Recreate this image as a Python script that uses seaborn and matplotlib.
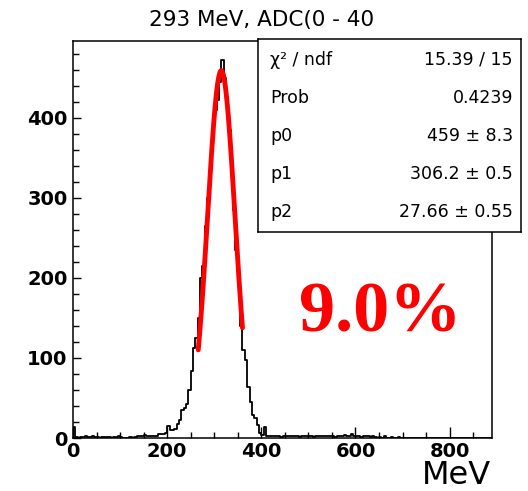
import numpy as np
import pandas as pd
import matplotlib
matplotlib.use("Agg")
import matplotlib.pyplot as plt
import seaborn as sns

# histogram counts, 5 MeV bins starting at 0
bin_width = 5
counts = [
    14, 1, 0, 1, 1, 2, 1, 1, 2, 1, 1, 0, 1, 1, 1, 1, 0, 1, 1, 2,
    1, 0, 0, 0, 1, 0, 1, 2, 3, 2, 4, 2, 3, 2, 2, 3, 5, 5, 5, 6,
    15, 10, 10, 11, 18, 22, 35, 37, 42, 60, 84, 112, 125, 150, 200, 215, 265, 300, 345, 380,
    410, 422, 445, 472, 450, 420, 385, 335, 285, 235, 190, 140, 110, 97, 64, 45, 29, 25, 16, 6,
    4, 14, 3, 2,
    3, 2, 2, 3, 1, 2, 3, 2, 3, 2, 2, 3, 1, 3, 2, 2, 3, 2, 1, 2,
    3, 2, 2, 3, 2, 3, 2, 1, 2, 3, 2, 4, 2, 3, 5, 2, 3, 2, 1, 2,
    3, 2, 1, 2, 1, 0, 1, 0, 2, 0, 0, 1,
    0, 0, 1, 0, 0, 0, 0, 0, 0, 0, 0, 0, 0, 0, 0, 0, 0, 0, 0, 0,
    0, 0, 0, 0, 0, 0, 0, 0, 0, 0, 0, 0, 0, 0, 0, 0, 0, 0, 0, 0, 0, 0,
]

# gaussian fit as drawn
fit_amp = 459
fit_mean = 315
fit_sigma = 29
fit_range = (266, 360)

title = "293 MeV, ADC(0 - 40"
stat_names = ["χ² / ndf", "Prob", "p0", "p1", "p2"]
stat_values = ["15.39 / 15", "0.4239", "459 ± 8.3", "306.2 ± 0.5", "27.66 ± 0.55"]
resolution = "9.0%"

sns.set_style("ticks")
plt.rcParams["font.family"] = ["DejaVu Sans"]
plt.rcParams["text.color"] = "black"
plt.rcParams["xtick.color"] = "black"
plt.rcParams["ytick.color"] = "black"

W, H = 528, 491
fig = plt.figure(figsize=(W / 100, H / 100), dpi=100)
ax = fig.add_axes([73 / W, 1 - 438 / H, (492 - 73) / W, (438 - 41) / H])

nbins = len(counts)
df = pd.DataFrame({"MeV": np.arange(nbins) * bin_width + bin_width / 2,
                   "n": np.array(counts, dtype=float)})
sns.histplot(data=df, x="MeV", weights="n", binwidth=bin_width,
             binrange=(0, nbins * bin_width), element="step", fill=False,
             color="black", linewidth=1.3, ax=ax)

xf = np.linspace(fit_range[0], fit_range[1], 200)
yf = fit_amp * np.exp(-0.5 * ((xf - fit_mean) / fit_sigma) ** 2)
sns.lineplot(x=xf, y=yf, color="red", linewidth=3.5, ax=ax)

ax.set_xlim(0, 890)
ax.set_ylim(0, 496)
ax.set_xlabel("")
ax.set_ylabel("")
ax.set_xticks(np.arange(0, 801, 200))
ax.set_xticks(np.arange(0, 890, 50), minor=True)
ax.set_yticks(np.arange(0, 401, 100))
ax.set_yticks(np.arange(0, 496, 20), minor=True)
ax.tick_params(axis="both", which="both", direction="in", top=False, right=False,
               width=1.0, color="black", labelcolor="black")
ax.tick_params(axis="x", which="major", length=8, pad=3)
ax.tick_params(axis="x", which="minor", length=4)
ax.tick_params(axis="y", which="major", length=6, pad=4)
ax.tick_params(axis="y", which="minor", length=4)
for lab in ax.get_xticklabels() + ax.get_yticklabels():
    lab.set_fontsize(14)
    lab.set_fontweight("bold")
for s in ax.spines.values():
    s.set_visible(True)
    s.set_linewidth(1.1)
    s.set_color("black")

# stats box
sb = fig.add_axes([258 / W, 1 - 232 / H, (521 - 258) / W, (232 - 39) / H])
sb.set_xticks([])
sb.set_yticks([])
sb.set_facecolor("white")
for s in sb.spines.values():
    s.set_linewidth(1.1)
    s.set_color("black")
row_base = [65, 103, 141, 179, 217]
for name, val, yb in zip(stat_names, stat_values, row_base):
    fig.text(270 / W, 1 - yb / H, name, fontsize=12.5, va="baseline", ha="left")
    fig.text(513 / W, 1 - yb / H, val, fontsize=12.5, va="baseline", ha="right")

fig.text(262 / W, 1 - 26 / H, title, fontsize=15.5, ha="center", va="baseline")
fig.text(491 / W, 1 - 484 / H, "MeV", fontsize=23, ha="right", va="baseline")
fig.text(299 / W, 1 - 331 / H, resolution, fontsize=52, color="red", fontweight="bold",
         family=["Liberation Serif"], ha="left", va="baseline")

fig.savefig("out.png", dpi=100)
